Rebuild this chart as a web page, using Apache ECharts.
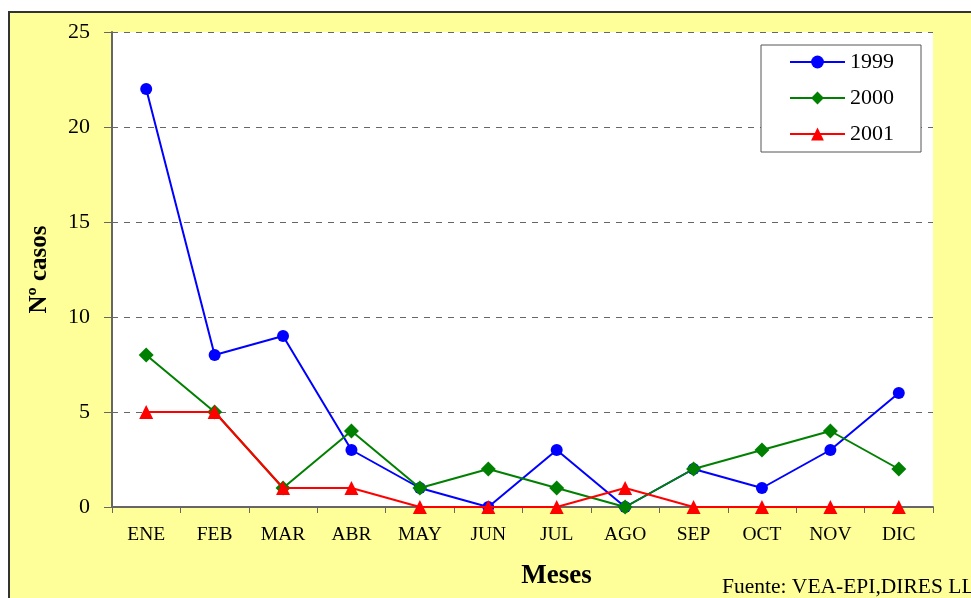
<!DOCTYPE html>
<html>
<head>
<meta charset="utf-8">
<script src="https://cdn.jsdelivr.net/npm/echarts@6/dist/echarts.min.js"></script>
<style>
  html, body { margin: 0; padding: 0; background: #fff; }
  #chart { width: 971px; height: 598px; }
</style>
</head>
<body>
<div id="chart"></div>
<script>
// datos por mes
const meses = ['ENE', 'FEB', 'MAR', 'ABR', 'MAY', 'JUN', 'JUL', 'AGO', 'SEP', 'OCT', 'NOV', 'DIC']
const casos1999 = [22, 8, 9, 3, 1, 0, 3, 0, 2, 1, 3, 6]
const casos2000 = [8, 5, 1, 4, 1, 2, 1, 0, 2, 3, 4, 2]
const casos2001 = [5, 5, 1, 1, 0, 0, 0, 1, 0, 0, 0, 0]

const serif = '"Liberation Serif", "DejaVu Serif", serif'

const chart = echarts.init(document.getElementById('chart'))

chart.setOption({
  backgroundColor: '#fff',
  animation: false,
  graphic: [
    {
      type: 'rect',
      z: -10,
      shape: { x: 9, y: 12, width: 980, height: 600 },
      style: { fill: '#FFFF99', stroke: '#333', lineWidth: 2 }
    },
    {
      type: 'text',
      left: 722,
      top: 576,
      style: { text: 'Fuente: VEA-EPI,DIRES LL', font: '21.5px ' + serif, fill: '#000' }
    }
  ],
  grid: {
    left: 112,
    right: 38,
    top: 32,
    bottom: 91,
    show: true,
    backgroundColor: '#fff',
    borderWidth: 0
  },
  legend: {
    left: 761,
    top: 45,
    orient: 'vertical',
    backgroundColor: '#fff',
    borderColor: '#555',
    borderWidth: 1,
    padding: [6, 27, 7, 28],
    itemGap: 14,
    itemWidth: 55,
    itemHeight: 16,
    textStyle: { fontFamily: serif, fontSize: 22, color: '#000' },
    data: ['1999', '2000', '2001']
  },
  xAxis: {
    type: 'category',
    data: meses,
    boundaryGap: true,
    name: 'Meses',
    nameLocation: 'middle',
    nameGap: 56,
    nameTextStyle: { fontFamily: serif, fontSize: 27, fontWeight: 'bold', color: '#000', padding: [0, 0, 0, 68] },
    axisLine: { lineStyle: { color: '#666', width: 2 } },
    axisTick: { show: true, length: 6, lineStyle: { color: '#666' } },
    axisLabel: { fontFamily: serif, fontSize: 19.5, color: '#000', margin: 18 }
  },
  yAxis: {
    type: 'value',
    min: 0,
    max: 25,
    interval: 5,
    name: 'Nº casos',
    nameLocation: 'middle',
    nameGap: 60,
    nameTextStyle: { fontFamily: serif, fontSize: 25, fontWeight: 'bold', color: '#000' },
    axisLine: { show: true, lineStyle: { color: '#666', width: 2 } },
    axisTick: { show: true, length: 8, lineStyle: { color: '#666' } },
    axisLabel: { fontFamily: serif, fontSize: 22, color: '#000', margin: 22 },
    splitLine: { lineStyle: { color: '#666', type: [6, 6], width: 1 } }
  },
  series: [
    {
      name: '1999',
      type: 'line',
      data: casos1999,
      symbol: 'circle',
      symbolSize: 12,
      lineStyle: { color: '#0000FF', width: 2 },
      itemStyle: { color: '#0000FF' },
      z: 3
    },
    {
      name: '2000',
      type: 'line',
      data: casos2000,
      symbol: 'diamond',
      symbolSize: 15,
      lineStyle: { color: '#008000', width: 2 },
      itemStyle: { color: '#008000' },
      z: 4
    },
    {
      name: '2001',
      type: 'line',
      data: casos2001,
      symbol: 'triangle',
      symbolSize: 14,
      lineStyle: { color: '#FF0000', width: 2 },
      itemStyle: { color: '#FF0000' },
      z: 5
    }
  ]
})
</script>
</body>
</html>
